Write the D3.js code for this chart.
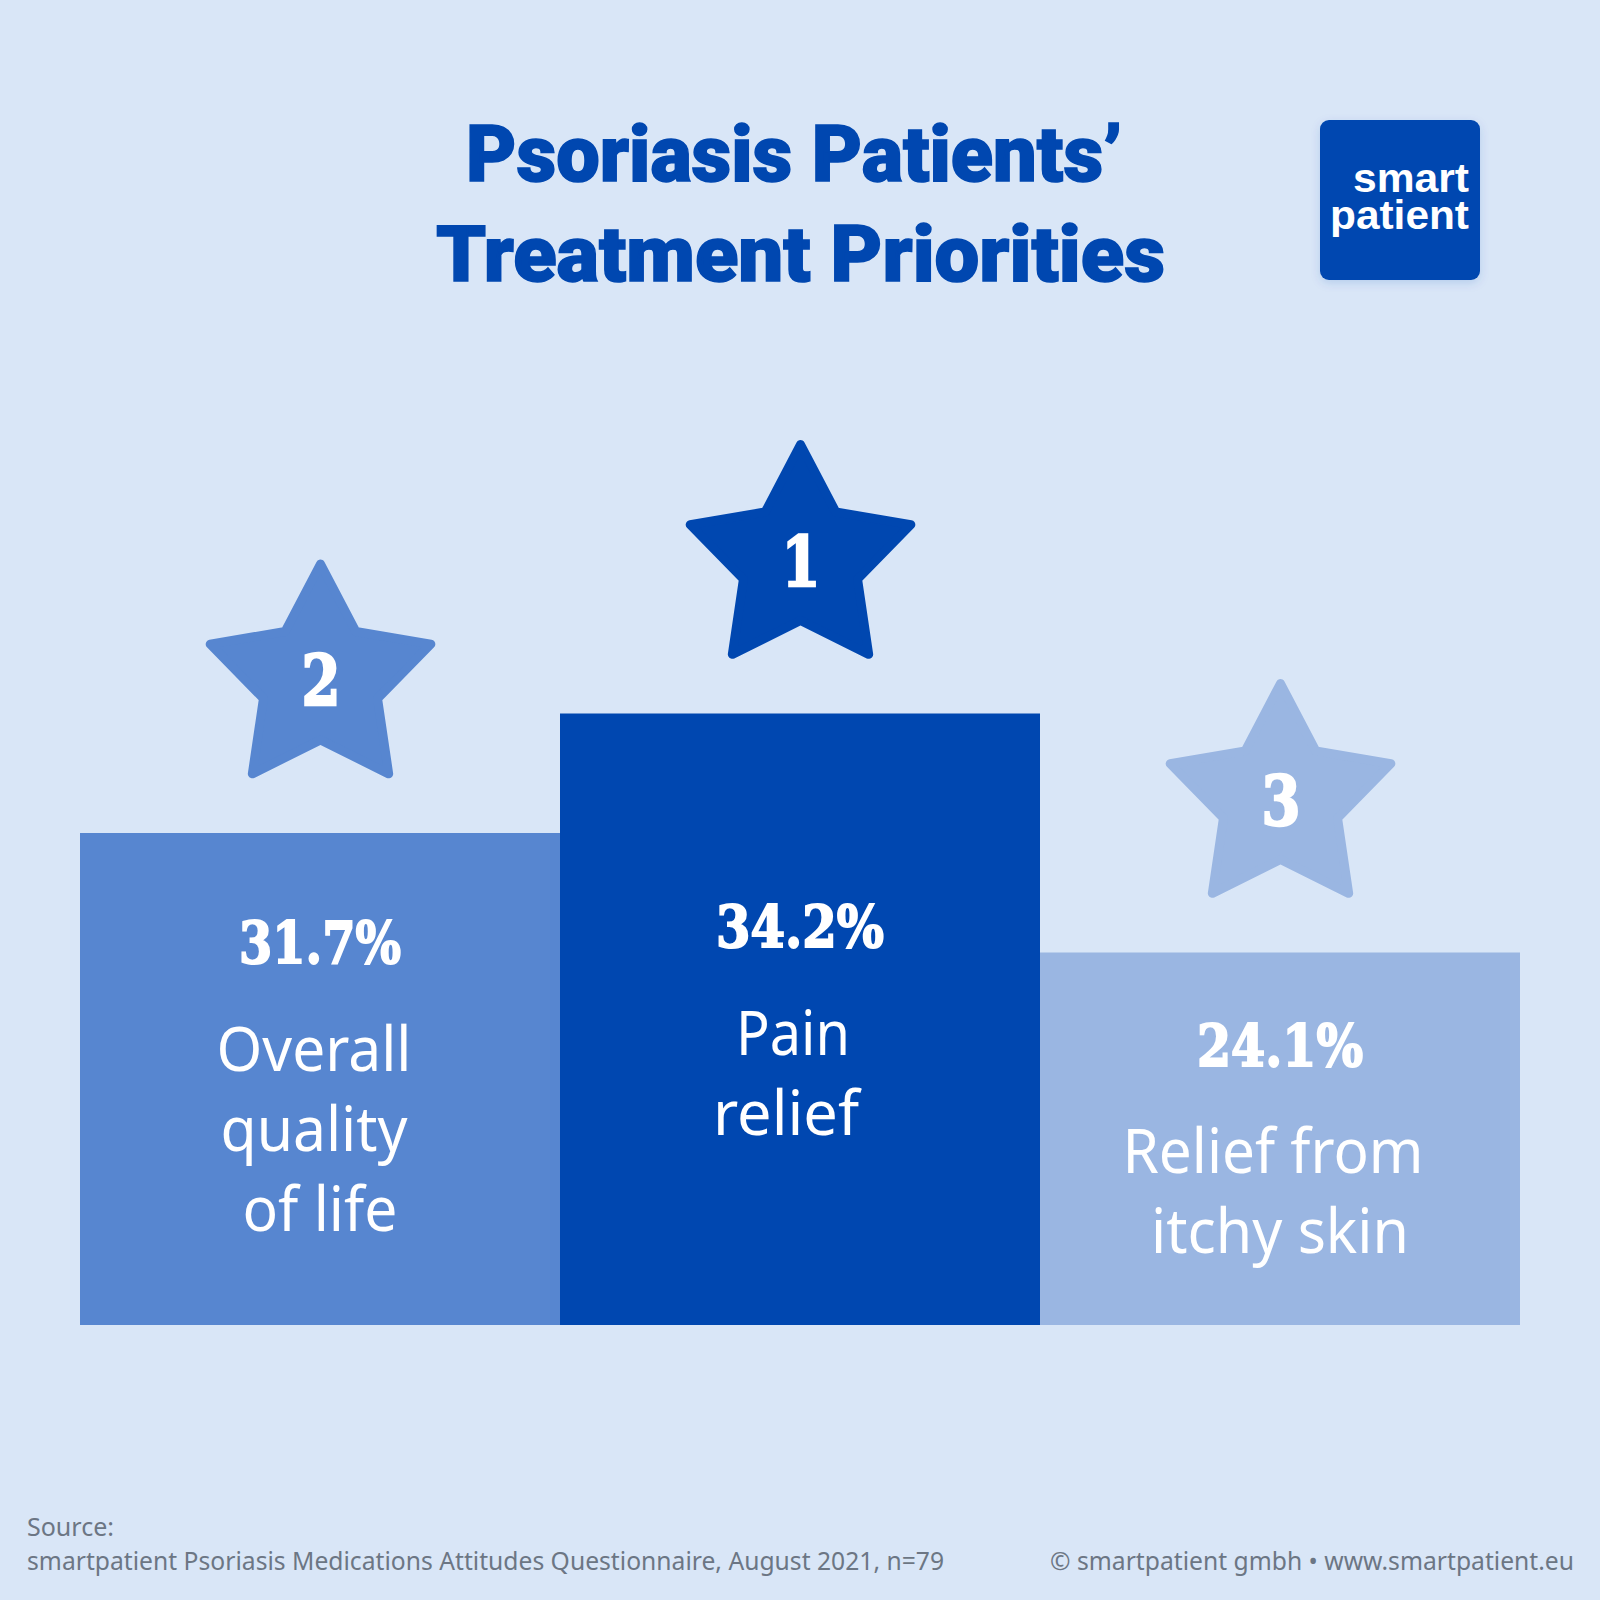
<!DOCTYPE html>
<html>
<head>
<meta charset="utf-8">
<script src="https://cdn.jsdelivr.net/npm/d3@7/dist/d3.min.js"></script>
<style>
  html, body { margin: 0; padding: 0; background: #d9e6f7; }
  svg { display: block; }
</style>
</head>
<body>
<svg id="chart" width="1600" height="1600"></svg>
<script>
// Data
const categories = ['Overall quality of life', 'Pain relief', 'Relief from itchy skin'];
const percentLabels = ['31.7%', '34.2%', '24.1%'];
const ranks = [2, 1, 3];
const labelLines = [['Overall', 'quality', 'of life'], ['Pain', 'relief'], ['Relief from', 'itchy skin']];
const titleLines = ['Psoriasis Patients’', 'Treatment Priorities'];
const logoLines = ['smart', 'patient'];
const sourceLines = ['Source:', 'smartpatient Psoriasis Medications Attitudes Questionnaire, August 2021, n=79'];
const copyrightLine = '© smartpatient gmbh • www.smartpatient.eu';

// Colours by category
const barColors = ['#5786d0', '#0047b0', '#9ab6e2'];
const darkBlue = '#0047b0';
const footerColor = '#6c7684';

const bodyFont = '"Noto Sans", sans-serif';
const heavyFont = 'Roboto, sans-serif';
const slabFont = '"DejaVu Serif", serif';

const svg = d3.select('#chart');

svg.append('rect').attr('width', 1600).attr('height', 1600).attr('fill', '#d9e6f7');

const defs = svg.append('defs');
defs.append('filter').attr('id', 'logoShadow')
  .attr('x', '-20%').attr('y', '-20%').attr('width', '140%').attr('height', '140%')
  .append('feDropShadow')
  .attr('dx', 0).attr('dy', 3).attr('stdDeviation', 5)
  .attr('flood-color', '#0047b0').attr('flood-opacity', 0.16);

// Scales: bars stand like a podium, their height follows the rank and not the percent
const x = d3.scaleBand().domain(categories).range([80, 1520]).padding(0);
const y = d3.scaleLinear().domain([1, 3]).range([713.5, 952.5]);
const barBottom = 1325;

// Text helper, squeezes the text to the width measured in the reference
function addText(parent, str, tx, ty, size, width, opts) {
  const o = opts || {};
  return parent.append('text')
    .attr('x', tx)
    .attr('y', ty)
    .attr('font-family', o.family || bodyFont)
    .attr('font-size', size)
    .attr('font-weight', o.weight || 400)
    .attr('fill', o.fill || '#fff')
    .attr('stroke', o.stroke ? (o.fill || '#fff') : 'none')
    .attr('stroke-width', o.stroke || 0)
    .attr('text-anchor', o.anchor || 'middle')
    .attr('textLength', width)
    .attr('lengthAdjust', 'spacingAndGlyphs')
    .text(str);
}

// Title
addText(svg, titleLines[0], 794, 181, 78, 656, { family: heavyFont, weight: 900, fill: darkBlue, stroke: 1.5 });
addText(svg, titleLines[1], 800.5, 281, 78, 729, { family: heavyFont, weight: 900, fill: darkBlue, stroke: 1.5 });

// Logo
svg.append('rect')
  .attr('x', 1320).attr('y', 120)
  .attr('width', 160).attr('height', 160)
  .attr('rx', 9)
  .attr('fill', darkBlue)
  .attr('filter', 'url(#logoShadow)');

const logoText = svg.append('text')
  .attr('font-family', '"Liberation Sans", sans-serif')
  .attr('font-size', 41)
  .attr('font-weight', 700)
  .attr('fill', '#fff')
  .attr('text-anchor', 'end');
const logoBaselines = [192, 229];
const logoWidths = [116, 139];
logoLines.forEach((line, i) => {
  logoText.append('tspan')
    .attr('x', 1469)
    .attr('y', logoBaselines[i])
    .attr('textLength', logoWidths[i])
    .attr('lengthAdjust', 'spacingAndGlyphs')
    .text(line);
});

// Bars
svg.selectAll('.bar')
  .data(categories)
  .enter().append('rect')
  .attr('class', 'bar')
  .attr('x', d => x(d))
  .attr('y', (d, i) => y(ranks[i]))
  .attr('width', x.bandwidth())
  .attr('height', (d, i) => barBottom - y(ranks[i]))
  .attr('fill', (d, i) => barColors[i]);

// Stars
const starShape = d3.lineRadial()
  .angle((d, i) => i * Math.PI / 5)
  .radius(d => d)
  .curve(d3.curveLinearClosed);
const starRadii = [116, 60, 116, 60, 116, 60, 116, 60, 116, 60];

svg.selectAll('.star')
  .data(categories)
  .enter().append('path')
  .attr('class', 'star')
  .attr('d', starShape(starRadii))
  .attr('transform', (d, i) => `translate(${x(d) + x.bandwidth() / 2 + 0.5},${y(ranks[i]) - 153})`)
  .attr('fill', (d, i) => barColors[i])
  .attr('stroke', (d, i) => barColors[i])
  .attr('stroke-width', 9)
  .attr('stroke-linejoin', 'round');

categories.forEach((c, i) => {
  const cx = x(c) + x.bandwidth() / 2;
  addText(svg, String(ranks[i]), cx + 1, y(ranks[i]) - 128, 70, 39, { family: slabFont, weight: 700, stroke: 2.5 });
});

// Percent labels, offset from the bar top differs per bar in the reference
const percentOffsets = [130, 233, 113];
const percentWidths = [162, 168, 166];
categories.forEach((c, i) => {
  const cx = x(c) + x.bandwidth() / 2;
  addText(svg, percentLabels[i], cx, y(ranks[i]) + percentOffsets[i], 58, percentWidths[i], { family: slabFont, weight: 700, stroke: 2 });
});

// Category labels, the lines are not quite centred in the reference
const lineBaselines = [[1071, 1151, 1231], [1055, 1135], [1173, 1253]];
const lineShifts = [[-6, -6, 0], [-7, -14], [-7, 0]];
const lineWidths = [[195, 187, 155], [114, 146], [301, 258]];
labelLines.forEach((lines, i) => {
  const cx = x(categories[i]) + x.bandwidth() / 2;
  lines.forEach((line, j) => {
    addText(svg, line, cx + lineShifts[i][j], lineBaselines[i][j], 62, lineWidths[i][j], { weight: 400 });
  });
});

// Footer
addText(svg, sourceLines[0], 27, 1536, 25, 87, { anchor: 'start', fill: footerColor });
addText(svg, sourceLines[1], 27, 1570, 25, 917, { anchor: 'start', fill: footerColor });
addText(svg, copyrightLine, 1574, 1570, 25, 524, { anchor: 'end', fill: footerColor });
</script>
</body>
</html>
